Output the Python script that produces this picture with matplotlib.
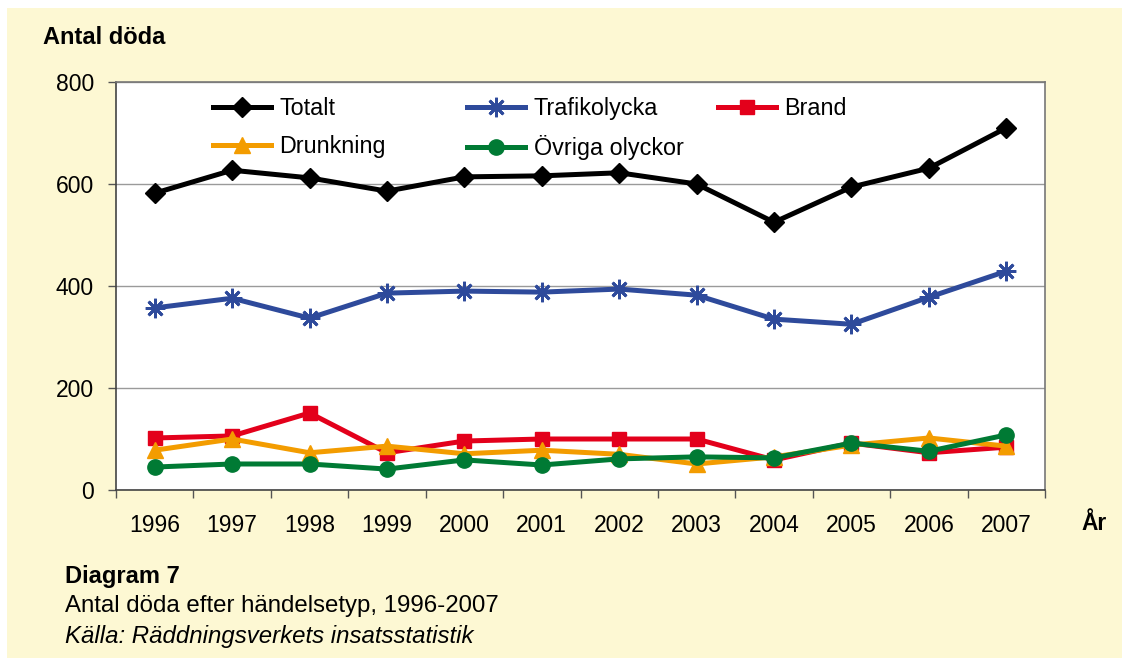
import matplotlib
matplotlib.use("Agg")
import matplotlib.pyplot as plt
from matplotlib.patches import Rectangle

plt.rcParams['font.family'] = ['Liberation Sans', 'DejaVu Sans']

years = ['1996', '1997', '1998', '1999', '2000', '2001', '2002', '2003', '2004', '2005', '2006', '2007']
totalt = [582, 627, 612, 586, 614, 616, 622, 600, 525, 594, 631, 710]
trafikolycka = [357, 376, 337, 386, 390, 388, 394, 382, 335, 325, 378, 429]
brand = [102, 106, 151, 73, 96, 100, 100, 100, 59, 92, 73, 84]
drunkning = [78, 100, 73, 86, 71, 78, 70, 51, 65, 88, 102, 86]
ovriga = [45, 51, 51, 41, 59, 49, 61, 65, 63, 92, 76, 108]
yticks = [0, 200, 400, 600, 800]

W, H = 1122, 662
fig = plt.figure(figsize=(W / 100, H / 100), dpi=100, facecolor='white')
bg = '#FDF8D3'
fig.patches.append(Rectangle((7 / W, 4 / H), 1 - 7 / W, 1 - 12 / H, transform=fig.transFigure,
                             facecolor=bg, edgecolor='none', zorder=-10))

ax = fig.add_axes([116 / W, (H - 490) / H, (1045 - 116) / W, (490 - 82) / H])
ax.set_zorder(2)
ax.set_facecolor('white')
x = list(range(len(years)))

series = [
    ('Totalt', totalt, 'black', 'D', 10, 1),
    ('Trafikolycka', trafikolycka, '#2E4A9B', (8, 2, 0), 14, 2),
    ('Brand', brand, '#E3001B', 's', 10, 1),
    ('Drunkning', drunkning, '#F39C00', '^', 11, 1),
    ('Övriga olyckor', ovriga, '#007A34', 'o', 11, 1),
]
handles = {}
for name, vals, col, mk, ms, mew in series:
    ln, = ax.plot(x, vals, color=col, lw=3.6, marker=mk, markersize=ms,
                  markeredgecolor=col, markerfacecolor=col, markeredgewidth=mew,
                  solid_joinstyle='round', clip_on=False, label=name)
    handles[name] = ln

ax.set_xlim(-0.5, len(years) - 0.5)
ax.set_ylim(0, 800)
ax.set_yticks(yticks)
ax.set_yticklabels([str(v) for v in yticks])
ax.yaxis.grid(True, color='#9A9A9A', lw=1)
ax.set_axisbelow(True)

ax.set_xticks([i - 0.5 for i in range(len(years) + 1)])
ax.set_xticklabels([])
ax.set_xticks(x, minor=True)
ax.set_xticklabels(years, minor=True)
ax.tick_params(axis='x', which='major', direction='out', length=6, width=1, color='#555555')
ax.tick_params(axis='x', which='minor', length=0, pad=17.5, labelsize=16.5)
ax.tick_params(axis='y', direction='out', length=6, width=1, color='#555555', pad=10, labelsize=16.5)

for s in ['left', 'bottom']:
    ax.spines[s].set_color('#444444')
    ax.spines[s].set_linewidth(1.2)
for s in ['top', 'right']:
    ax.spines[s].set_color('#777777')
    ax.spines[s].set_linewidth(1.2)

cols = [(['Totalt', 'Drunkning'], 213), (['Trafikolycka', 'Övriga olyckor'], 467), (['Brand'], 718)]
for names, px in cols:
    leg = fig.legend([handles[n] for n in names], names, loc='upper left',
                     bbox_to_anchor=(px / W, 1 - 97 / H), frameon=False, fontsize=16.8,
                     handlelength=2.5, handletextpad=0.35, labelspacing=0.65,
                     borderpad=0, borderaxespad=0)
    leg.set_zorder(5)

fig.text(43 / W, 1 - 37 / H, 'Antal döda', fontsize=17, fontweight='bold', va='center', ha='left')
fig.text(1081 / W, 1 - 523 / H, 'År', fontsize=16.5, fontweight='bold', va='center', ha='left')
fig.text(65 / W, 1 - 577 / H, 'Diagram 7', fontsize=17, fontweight='bold', va='center', ha='left')
fig.text(65 / W, 1 - 606 / H, 'Antal döda efter händelsetyp, 1996-2007', fontsize=17.3, va='center', ha='left')
fig.text(65 / W, 1 - 636 / H, 'Källa: Räddningsverkets insatsstatistik', fontsize=17.3, style='italic',
         va='center', ha='left')

fig.savefig('out.png', dpi=100, facecolor='white')
